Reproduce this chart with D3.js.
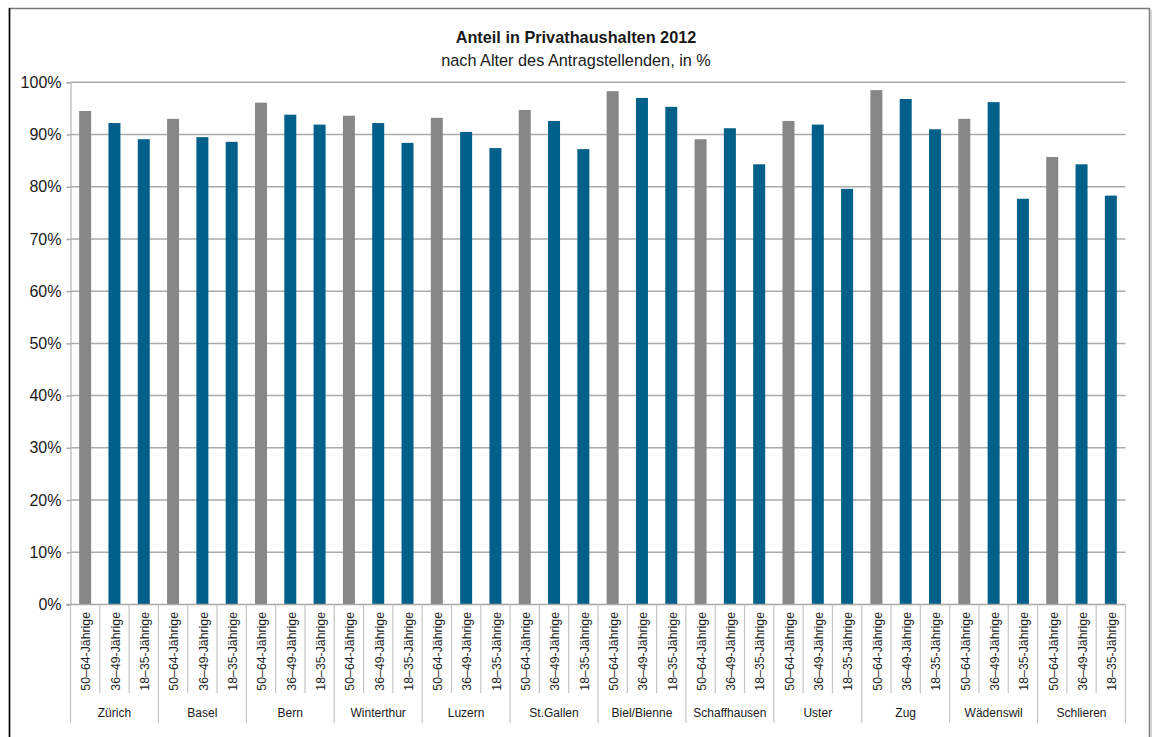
<!DOCTYPE html>
<html>
<head>
<meta charset="utf-8">
<script src="https://cdn.jsdelivr.net/npm/d3@7"></script>
<style>
  html, body { margin: 0; padding: 0; background: #ffffff; }
  svg { display: block; }
  text { font-family: "Liberation Sans", Arial, sans-serif; fill: #1a1a1a; }
</style>
</head>
<body>
<svg id="chart" width="1157" height="737"></svg>
<script>
// ---- data ----
const cities = ["Zürich", "Basel", "Bern", "Winterthur", "Luzern", "St.Gallen",
                "Biel/Bienne", "Schaffhausen", "Uster", "Zug", "Wädenswil", "Schlieren"];
const ageGroups = ["50–64-Jährige", "36–49-Jährige", "18–35-Jährige"];
const values5064 = [94.5, 93.0, 96.1, 93.6, 93.2, 94.7, 98.3, 89.1, 92.6, 98.5, 93.0, 85.7];
const values3649 = [92.2, 89.5, 93.8, 92.2, 90.5, 92.6, 97.0, 91.2, 91.9, 96.8, 96.2, 84.3];
const values1835 = [89.1, 88.6, 91.9, 88.4, 87.4, 87.2, 95.3, 84.3, 79.6, 91.0, 77.7, 78.3];
const yTicks = [0, 10, 20, 30, 40, 50, 60, 70, 80, 90, 100];
const titleText = "Anteil in Privathaushalten 2012";
const subtitleText = "nach Alter des Antragstellenden, in %";

const seriesValues = [values5064, values3649, values1835];
const rows = [];
cities.forEach((c, ci) => {
  ageGroups.forEach((g, gi) => {
    rows.push({ key: ci + "|" + gi, city: c, group: g, gi: gi, value: seriesValues[gi][ci] });
  });
});

// ---- layout ----
const svg = d3.select("#chart");
const pLeft = 70.5, pRight = 1125.5, pTop = 82.3, pBottom = 604.5;
const barW = 12;

const x = d3.scaleBand().domain(rows.map(d => d.key)).range([pLeft, pRight]).padding(0);
const xCity = d3.scaleBand().domain(cities).range([pLeft, pRight]).padding(0);
const y = d3.scaleLinear().domain([0, 100]).range([pBottom, pTop]);
const color = d3.scaleOrdinal().domain(ageGroups).range(["#878787", "#006089", "#006089"]);

// frame
svg.append("rect").attr("x", 9.5).attr("y", 8.5).attr("width", 1140).attr("height", 740)
  .attr("fill", "none").attr("stroke", "#7a7a7a").attr("stroke-width", 1.5);
svg.append("line").attr("x1", 9.5).attr("x2", 9.5).attr("y1", 8).attr("y2", 737)
  .attr("stroke", "#000").attr("stroke-width", 1.5);
svg.append("line").attr("x1", 1151.2).attr("x2", 1151.2).attr("y1", 10).attr("y2", 737)
  .attr("stroke", "#c8c8c8").attr("stroke-width", 1.2);

// title
svg.append("text").attr("x", 576).attr("y", 43).attr("text-anchor", "middle")
  .style("font-weight", "bold").style("font-size", "16.3px").text(titleText);
svg.append("text").attr("x", 576).attr("y", 65.5).attr("text-anchor", "middle")
  .style("font-size", "16.3px").text(subtitleText);

// y axis + grid
const yAxis = d3.axisLeft(y).tickValues(yTicks).tickSize(4).tickPadding(5)
  .tickFormat(d => d + "%");
const gy = svg.append("g").attr("transform", `translate(${pLeft},0)`).call(yAxis);
gy.select(".domain").attr("stroke", "#c4c4c4").attr("stroke-width", 1.5);
gy.selectAll(".tick line").attr("stroke", "#a8a8a8").attr("stroke-width", 1.5);
gy.selectAll(".tick text").style("font-size", "16px").style("fill", "#1a1a1a")
  .style("font-family", "'Liberation Sans', Arial, sans-serif");

svg.append("g").selectAll("line").data(yTicks.filter(t => t > 0)).join("line")
  .attr("x1", pLeft).attr("x2", pRight).attr("y1", d => y(d)).attr("y2", d => y(d))
  .attr("stroke", "#aaaaaa").attr("stroke-width", 1.5);

// bars
svg.append("g").selectAll("rect").data(rows).join("rect")
  .attr("x", d => x(d.key) + (x.bandwidth() - barW) / 2)
  .attr("width", barW)
  .attr("y", d => y(d.value))
  .attr("height", d => y(0) - y(d.value))
  .attr("fill", d => color(d.group));

// x axis baseline
svg.append("line").attr("x1", pLeft - 4).attr("x2", pRight).attr("y1", y(0)).attr("y2", y(0))
  .attr("stroke", "#a8a8a8").attr("stroke-width", 1.5);

// category separators
const sep = svg.append("g").attr("stroke", "#c4c4c4").attr("stroke-width", 1.2);
rows.forEach(d => {
  if (d.gi !== 0) {
    sep.append("line").attr("x1", x(d.key)).attr("x2", x(d.key))
      .attr("y1", pBottom).attr("y2", 693);
  }
});
cities.concat(["__end"]).forEach(c => {
  const xx = c === "__end" ? pRight : xCity(c);
  sep.append("line").attr("x1", xx).attr("x2", xx).attr("y1", pBottom).attr("y2", 723);
});

// tick labels (rotated)
svg.append("g").selectAll("text").data(rows).join("text")
  .attr("transform", d => `translate(${x(d.key) + x.bandwidth() / 2 + 1},${612}) rotate(-90)`)
  .attr("text-anchor", "end").attr("dy", "0.35em")
  .style("font-size", "12.3px").text(d => d.group);

// city labels
svg.append("g").selectAll("text").data(cities).join("text")
  .attr("x", d => xCity(d) + xCity.bandwidth() / 2).attr("y", 717)
  .attr("text-anchor", "middle").style("font-size", "12px").text(d => d);
</script>
</body>
</html>
